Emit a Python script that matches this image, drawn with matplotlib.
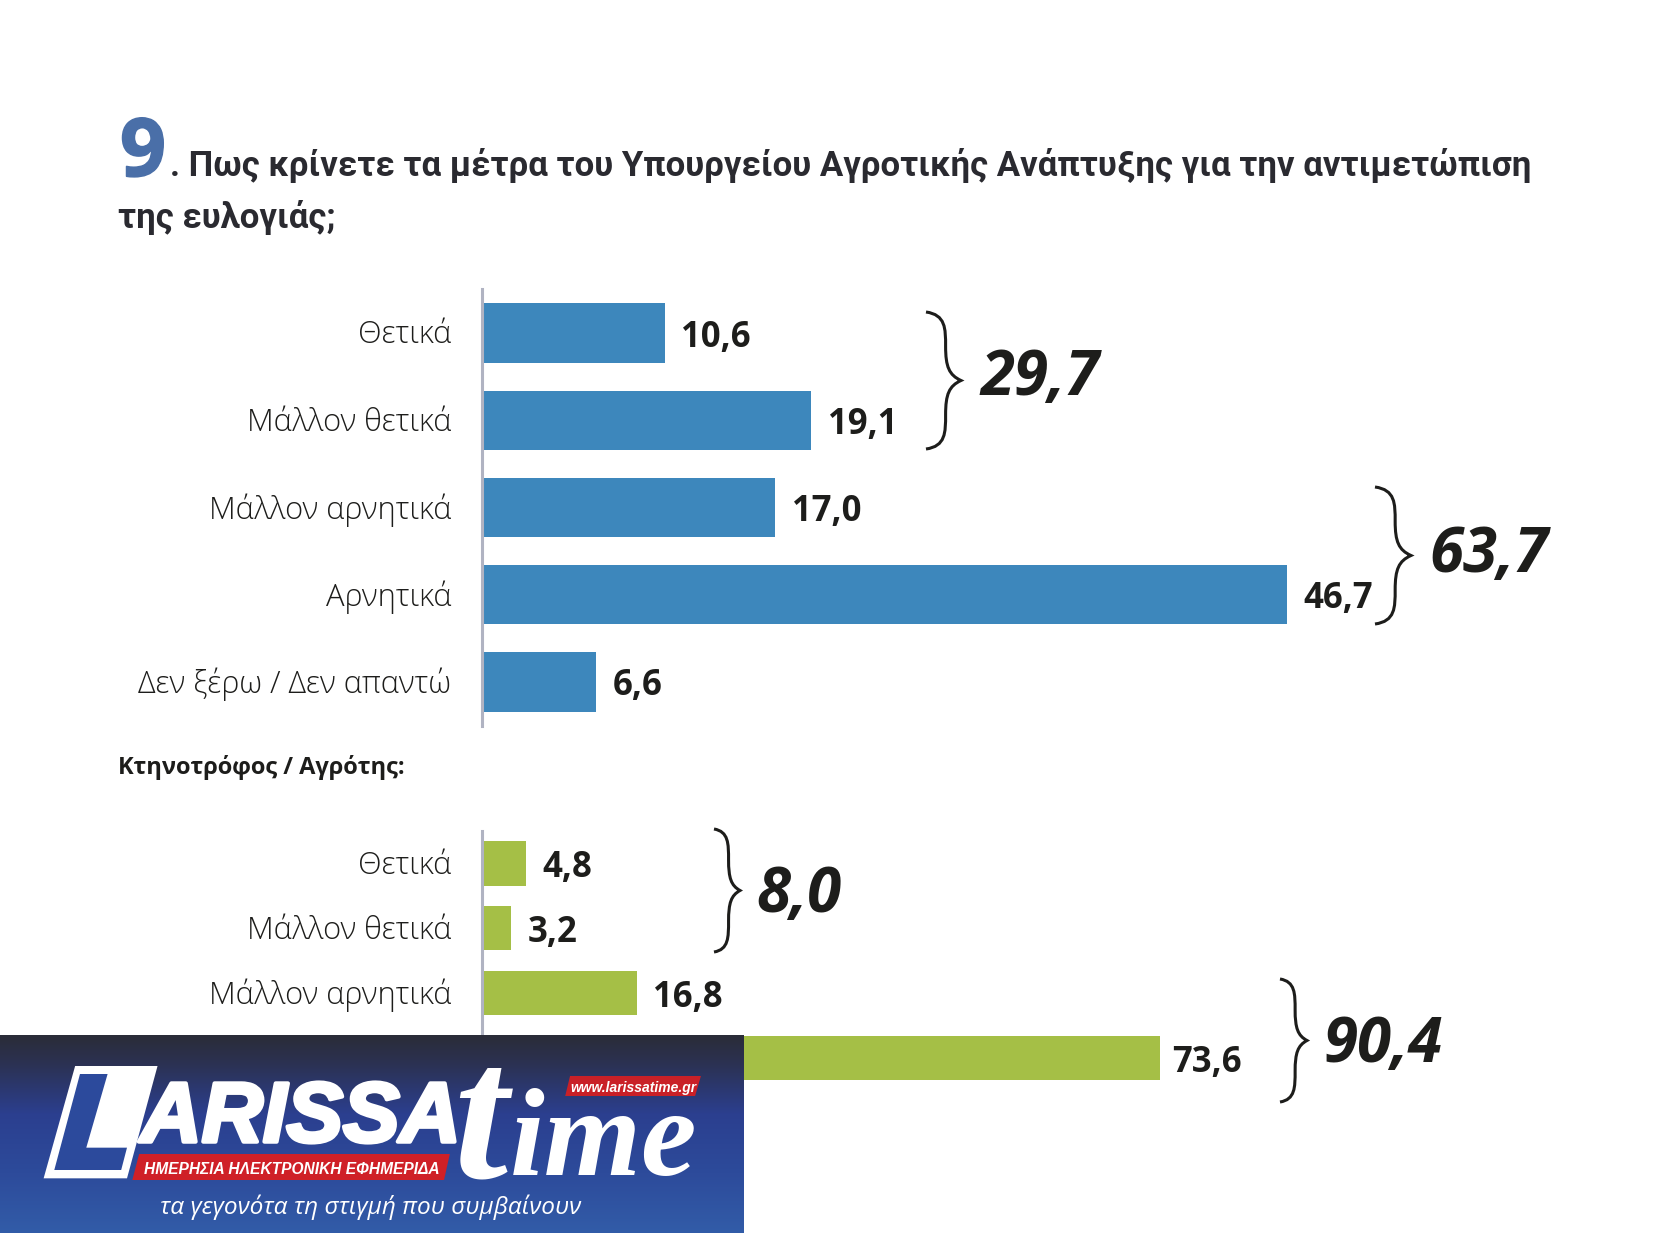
#!/usr/bin/env python3
"""Poll chart: two horizontal bar groups with bracket totals and a site banner on top."""
import matplotlib
matplotlib.use("Agg")
import matplotlib.pyplot as plt
import matplotlib.patheffects as pe
import matplotlib.transforms as mtrans
import numpy as np
from matplotlib.patches import PathPatch, Polygon
from matplotlib.path import Path

W, H = 1654, 1235
INK, BLUE, GREEN, AXISC, NUM = "#1d1d1b", "#3d87bc", "#a5bf46", "#b0b3c2", "#4a6fa8"
plt.rcParams["font.family"] = ["Open Sans", "DejaVu Sans"]

categories = ["Θετικά", "Μάλλον θετικά", "Μάλλον αρνητικά", "Αρνητικά", "Δεν ξέρω / Δεν απαντώ"]
all_values = [10.6, 19.1, 17.0, 46.7, 6.6]
farmer_values = [4.8, 3.2, 16.8, 73.6, 1.6]
all_totals = ["29,7", "63,7"]
farmer_totals = ["8,0", "90,4"]

fig = plt.figure(figsize=(W / 100, H / 100), dpi=100, facecolor="white")


def bars(values, top, bottom, xmax, color):
    ax = fig.add_axes([482 / W, 1 - bottom / H, 1040 / W, (bottom - top) / H])
    y = np.arange(len(values))
    ax.barh(y, values, height=0.68, color=color, left=0)
    ax.set_xlim(0, xmax)
    ax.set_ylim(len(values) - 0.5, -0.5)
    ax.set_yticks(y, categories, fontsize=22.2, color=INK, fontweight="light")
    ax.set_xticks([])
    ax.tick_params(axis="y", length=0, pad=22)
    # nudge the labels up a little, they sit just above the bar centres
    nudge = mtrans.ScaledTranslation(0, 1.2 / 72, fig.dpi_scale_trans)
    for lab in ax.get_yticklabels():
        lab.set_transform(lab.get_transform() + nudge)
    for s in ["top", "right", "bottom"]:
        ax.spines[s].set_visible(False)
    ax.spines["left"].set_color(AXISC)
    ax.spines["left"].set_linewidth(2.2)
    for yy, v in zip(y, values):
        gap = 9 if v > 70 else 12
        ax.annotate(f"{v:.1f}".replace(".", ","), (v, yy), xytext=(gap, -3.2),
                    textcoords="offset points", va="center", ha="left",
                    fontsize=25, fontweight="bold", color=INK)
    return ax


bars(all_values, 289.5, 725.5, 1040 / 17.24, BLUE)
bars(farmer_values, 831, 1155.5, 1040 / 9.21, GREEN)

# everything else is placed in image pixels
ov = fig.add_axes([0, 0, 1, 1], zorder=5)
ov.set_xlim(0, W)
ov.set_ylim(H, 0)
ov.axis("off")
ov.patch.set_alpha(0)

ov.text(120, 176, "9", fontsize=58, fontweight="bold", color=NUM, va="baseline",
        path_effects=[pe.withStroke(linewidth=1.2, foreground=NUM)])
ov.text(170, 176, ". Πως κρίνετε τα μέτρα του Υπουργείου Αγροτικής Ανάπτυξης για την αντιμετώπιση",
        fontsize=25, fontweight="bold", color="#2a2a30", va="baseline", family="Roboto")
ov.text(118, 228, "της ευλογιάς;", fontsize=25, fontweight="bold", color="#2a2a30", va="baseline",
        family="Roboto")
ov.text(118, 774, "Κτηνοτρόφος / Αγρότης:", fontsize=17, fontweight="bold", color=INK, va="baseline")


def brace(x0, x1, y0, y1):
    xm, ym = x0 + (x1 - x0) * 0.56, (y0 + y1) / 2
    h = y1 - y0
    dx = 0.1 * (x1 - x0)
    verts = [(x0, y0), (xm, y0 + 0.02 * h), (xm, y0 + 0.12 * h), (xm, y0 + 0.25 * h),
             (xm, y0 + 0.40 * h), (xm + dx, ym - 0.04 * h), (x1, ym),
             (xm + dx, ym + 0.04 * h), (xm, y1 - 0.40 * h), (xm, y1 - 0.25 * h),
             (xm, y1 - 0.12 * h), (xm, y1 - 0.02 * h), (x0, y1)]
    codes = [Path.MOVETO] + [Path.CURVE4] * 12
    ov.add_patch(PathPatch(Path(verts, codes), fill=False, ec=INK, lw=2.2))


brace(926, 961, 312, 449)
brace(1375, 1411, 487, 624)
brace(714, 740, 829, 952)
brace(1280, 1307, 979, 1102)
for txt, x, y in [(all_totals[0], 980, 395), (all_totals[1], 1429, 572),
                  (farmer_totals[0], 756, 912), (farmer_totals[1], 1323, 1062)]:
    ov.text(x, y, txt, fontsize=44.5, fontweight="bold", style="italic", color=INK, va="baseline")

# banner, coordinates taken from the crop
LX, LT, LR, LB = 0, 1035, 744, 1233
grad = np.array([[42, 44, 56], [44, 50, 84], [43, 63, 143], [45, 75, 155], [50, 92, 168]]) / 255
stops = np.linspace(0, 1, 200)
img = np.stack([np.interp(stops, [0, 0.15, 0.4, 0.7, 1], grad[:, i]) for i in range(3)], axis=1)[:, None, :]
ov.imshow(img, extent=(LX, LR, LB, LT), aspect="auto", zorder=6)
ov.set_xlim(0, W)
ov.set_ylim(H, 0)


def z(x, y):
    return x / 2.063, 1020 + y / 3


def poly(pts, color, zo=7):
    ov.add_patch(Polygon([z(*p) for p in pts], closed=True, fc=color, ec="none", zorder=zo))


poly([(155, 138), (325, 138), (262, 475), (90, 475)], "white")
poly([(165, 162), (222, 162), (178, 383), (262, 383), (250, 450), (112, 450)], "#2c4a9c", 8)
poly([(287, 402), (928, 402), (916, 480), (273, 480)], "#cf2027", 9)
poly([(1176, 168), (1446, 168), (1434, 228), (1166, 228)], "#c92027", 9)

SANS = "Liberation Sans"
x, y = z(290, 365)
ov.text(x, y, "ARISSA", fontsize=61, fontweight="bold", style="italic", color="white",
        family=SANS, va="baseline", zorder=8,
        path_effects=[pe.withStroke(linewidth=3, foreground="white")])
x, y = z(297, 462)
ov.text(x, y, "ΗΜΕΡΗΣΙΑ ΗΛΕΚΤΡΟΝΙΚΗ ΕΦΗΜΕΡΙΔΑ", fontsize=11.2, fontweight="bold", style="italic",
        color="white", family=SANS, va="baseline", zorder=10)
x, y = z(1176, 215)
ov.text(x, y, "www.larissatime.gr", fontsize=10, fontweight="bold", style="italic", color="white",
        family=SANS, va="baseline", zorder=10)
x, y = z(935, 472)
ov.text(x, y, "t", fontsize=140, fontweight="bold", style="italic", color="white",
        family="Liberation Serif", va="baseline", zorder=8)
x, y = z(1052, 465)
ov.text(x, y, "ime", fontsize=90, fontweight="bold", style="italic", color="white",
        family="Liberation Serif", va="baseline", zorder=8)
x, y = z(330, 582)
ov.text(x, y, "τα γεγονότα τη στιγμή που συμβαίνουν", fontsize=17.6, style="italic",
        color="white", va="baseline", zorder=8)

fig.savefig("out.png", dpi=100, facecolor="white")
print("wrote out.png")
